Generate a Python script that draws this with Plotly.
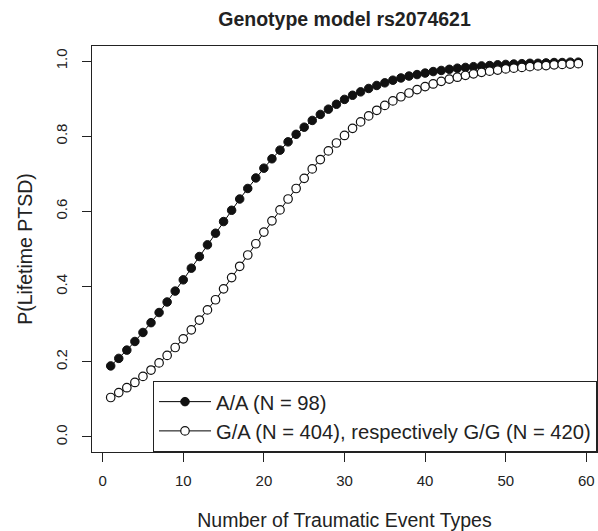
import plotly.graph_objects as go

# Number of traumatic event types
x_events = list(range(1, 60))

# A/A (N = 98) -- filled circles
p_aa = [0.189, 0.209, 0.231, 0.254, 0.278, 0.304, 0.331, 0.359, 0.388, 0.418,
        0.449, 0.480, 0.511, 0.542, 0.573, 0.603, 0.633, 0.661, 0.689, 0.715,
        0.740, 0.763, 0.785, 0.805, 0.824, 0.842, 0.858, 0.872, 0.885, 0.898,
        0.909, 0.918, 0.927, 0.935, 0.942, 0.949, 0.955, 0.960, 0.964, 0.968,
        0.972, 0.975, 0.978, 0.981, 0.983, 0.985, 0.987, 0.988, 0.990, 0.991,
        0.992, 0.993, 0.994, 0.994, 0.995, 0.996, 0.996, 0.997, 0.997]

# G/A (N = 404), respectively G/G (N = 420) -- open circles
p_ga = [0.105, 0.118, 0.131, 0.145, 0.161, 0.178, 0.197, 0.217, 0.238, 0.261,
        0.285, 0.311, 0.338, 0.365, 0.394, 0.424, 0.454, 0.484, 0.514, 0.545,
        0.575, 0.604, 0.633, 0.661, 0.688, 0.713, 0.738, 0.761, 0.782, 0.802,
        0.821, 0.838, 0.854, 0.869, 0.882, 0.894, 0.905, 0.915, 0.924, 0.932,
        0.939, 0.946, 0.952, 0.957, 0.962, 0.966, 0.970, 0.973, 0.976, 0.979,
        0.981, 0.983, 0.985, 0.987, 0.988, 0.990, 0.991, 0.992, 0.993]

name_aa = "A/A (N = 98)"
name_ga = "G/A (N = 404), respectively G/G (N = 420)"

x_ticks = [0, 10, 20, 30, 40, 50, 60]
y_ticks = [0.0, 0.2, 0.4, 0.6, 0.8, 1.0]
y_tick_labels = ["0.0", "0.2", "0.4", "0.6", "0.8", "1.0"]

FONT = "Liberation Sans, Arial, Helvetica, sans-serif"
INK = "#222222"

fig = go.Figure()
fig.add_trace(go.Scatter(
    x=x_events, y=p_aa, name=name_aa, mode="lines+markers",
    line=dict(color="black", width=1),
    marker=dict(symbol="circle", size=8.5, color="#111111",
                line=dict(color="#111111", width=1)),
))
fig.add_trace(go.Scatter(
    x=x_events, y=p_ga, name=name_ga, mode="lines+markers",
    line=dict(color="black", width=1),
    marker=dict(symbol="circle", size=8.5, color="white",
                line=dict(color="#111111", width=1.2)),
))

fig.update_layout(
    width=598, height=531,
    margin=dict(l=92, r=1, t=46, b=79, autoexpand=False),
    paper_bgcolor="white", plot_bgcolor="white",
    font=dict(family=FONT, color=INK, size=15),
    title=dict(text="<b>Genotype model rs2074621</b>", x=0.5, xref="paper",
               xanchor="center", y=0.964, yanchor="middle", yref="container",
               font=dict(size=19.5, color=INK)),
    showlegend=True,
    legend=dict(x=1, y=0, xanchor="right", yanchor="bottom",
                bgcolor="white", bordercolor=INK, borderwidth=1,
                font=dict(size=20.2, color=INK),
                tracegroupgap=0, itemwidth=52),
)
fig.update_xaxes(
    range=[-1.32, 61.32], tickvals=x_ticks, ticks="outside", ticklen=9,
    tickcolor=INK, showline=True, mirror=True, linecolor=INK,
    linewidth=1, showgrid=False, zeroline=False, automargin=False,
    tickfont=dict(size=15), ticklabelstandoff=6,
    title=dict(text="Number of Traumatic Event Types", font=dict(size=19.5), standoff=26),
)
fig.update_yaxes(
    range=[-0.04, 1.04], tickvals=y_ticks, ticktext=y_tick_labels, ticks="outside",
    ticklen=9, tickcolor=INK, showline=True, mirror=True, linecolor=INK,
    linewidth=1, showgrid=False, zeroline=False, tickangle=-90, automargin=False,
    tickfont=dict(size=15), ticklabelstandoff=9,
    title=dict(text="P(Lifetime PTSD)", font=dict(size=19.5), standoff=15),
)

fig.write_html("out.html", config={"displayModeBar": False},
               post_script="document.body.style.margin='0';")
